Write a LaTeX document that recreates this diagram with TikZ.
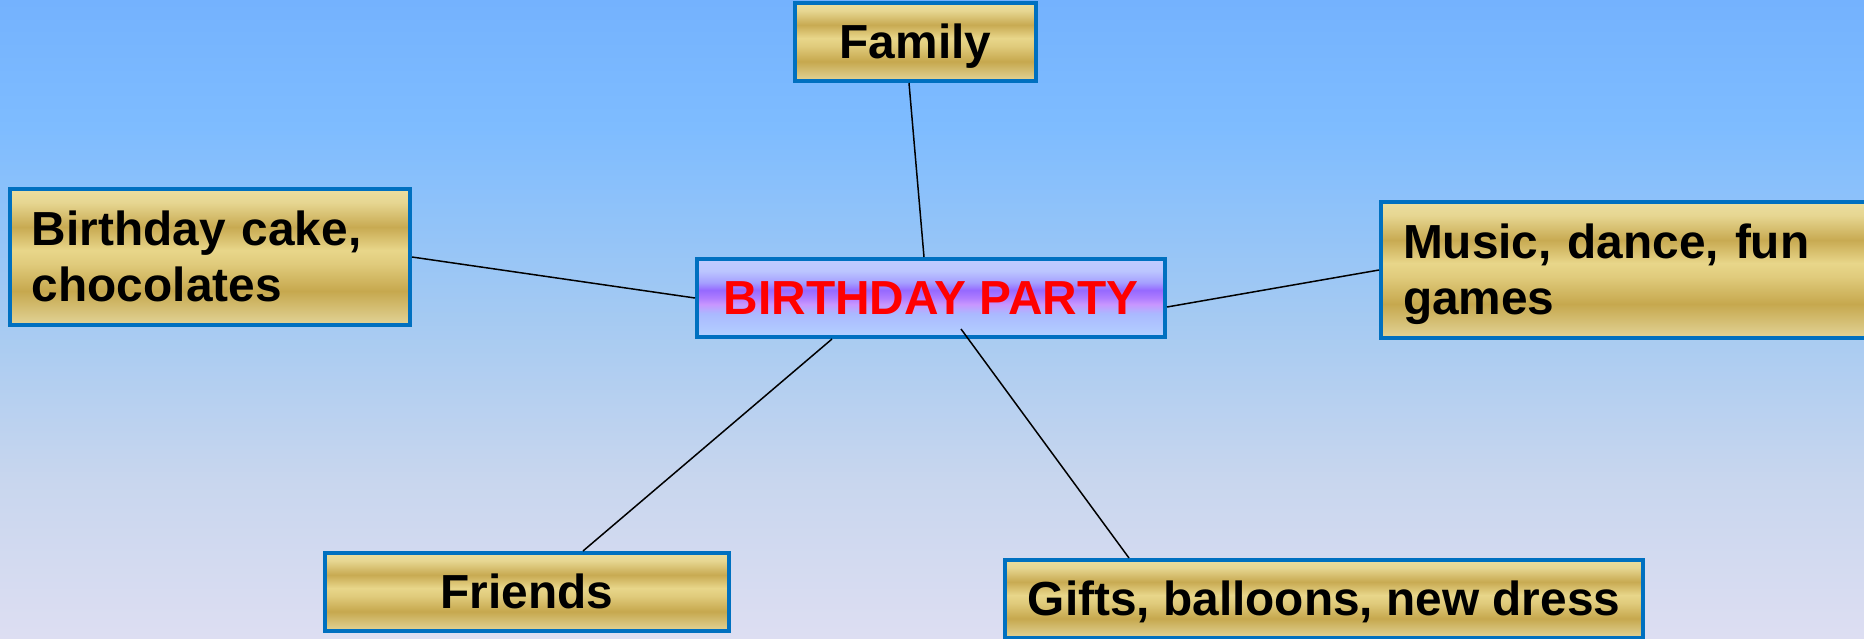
\documentclass[tikz,border=0pt]{standalone}
\usepackage{fontspec}
\setmainfont{Liberation Sans}
\usetikzlibrary{calc}
\definecolor{bgA}{RGB}{116,178,254}
\definecolor{bgB}{RGB}{126,188,255}
\definecolor{bgC}{RGB}{165,202,242}
\definecolor{bgD}{RGB}{200,214,238}
\definecolor{bgE}{RGB}{221,222,242}
\definecolor{gA}{RGB}{235,222,160}
\definecolor{gA2}{RGB}{230,214,145}
\definecolor{gB}{RGB}{200,170,82}
\definecolor{gC}{RGB}{232,214,138}
\definecolor{gC2}{RGB}{224,203,124}
\definecolor{gD}{RGB}{198,168,78}
\definecolor{gE}{RGB}{226,212,152}
\definecolor{cA}{RGB}{192,204,255}
\definecolor{cA2}{RGB}{188,198,255}
\definecolor{cA3}{RGB}{165,160,255}
\definecolor{cB}{RGB}{150,105,255}
\definecolor{cB2}{RGB}{175,125,255}
\definecolor{cC}{RGB}{200,150,255}
\definecolor{cD}{RGB}{170,185,255}
\definecolor{cE}{RGB}{180,210,255}
\definecolor{boxborder}{RGB}{0,112,192}
\pgfdeclareverticalshading{bgshade}{100bp}{color(0bp)=(bgE); color(25bp)=(bgE); color(37.5bp)=(bgD); color(50bp)=(bgC); color(65bp)=(bgB); color(75bp)=(bgA); color(100bp)=(bgA)}
\pgfdeclareverticalshading{goldshade}{100bp}{color(0bp)=(gE); color(25bp)=(gE); color(37.5bp)=(gD); color(47.5bp)=(gC2); color(52.5bp)=(gC); color(61bp)=(gB); color(70bp)=(gA2); color(75bp)=(gA); color(100bp)=(gA)}
\pgfdeclareverticalshading{hubshade}{100bp}{color(0bp)=(cE); color(25bp)=(cE); color(40bp)=(cD); color(46bp)=(cC); color(50bp)=(cB2); color(55bp)=(cB); color(60bp)=(cA3); color(67.5bp)=(cA2); color(75bp)=(cA); color(100bp)=(cA)}
\newcommand\mystrut{\rule[-0.212em]{0pt}{1.117em}}
\tikzset{
  boxbase/.style={draw=boxborder, line width=2pt, rectangle, inner sep=0pt,
    font=\fontsize{23.9pt}{28pt}\selectfont\bfseries},
  goldbox/.style={boxbase, shading=goldshade, minimum height=39pt},
  goldtall/.style={boxbase, shading=goldshade, minimum height=68pt, align=left, inner xsep=11pt},
  hubbox/.style={boxbase, shading=hubshade, text=red, minimum width=234pt, minimum height=39pt},
  link/.style={draw=black, line width=0.75pt}
}
\begin{document}
\begin{tikzpicture}[x=0.5pt,y=-0.5pt]
\useasboundingbox (0,0) rectangle (1864,638);
\clip (0,0) rectangle (1864,638);
\shade[shading=bgshade] (0,0) rectangle (1864,638);
\node[goldbox, minimum width=120.5pt] (family) at (915.5,42) {\mystrut Family};
\node[hubbox] (hub) at (931,298) {\mystrut BIRTHDAY PARTY};
\node[goldtall, text width=178pt] (cake) at (210,257) {\mystrut Birthday cake,\\ chocolates\mystrut};
\node[goldtall, text width=256.5pt] (music) at (1659.5,270) {\mystrut Music, dance, fun\\ games\mystrut};
\node[goldbox, minimum width=202pt] (friends) at (527,592) {\mystrut Friends};
\node[goldbox, minimum width=319pt] (gifts) at (1324,599) {\mystrut Gifts, balloons, new dress};
\draw[link] ($(family.south)+(-6.5,0)$) -- ($(hub.north)+(-7,0)$);
\draw[link] (cake.east) -- (hub.west);
\draw[link] ($(hub.east)+(0,9)$) -- (music.west);
\draw[link] ($(friends.north)+(56,0)$) -- ($(hub.south)+(-99,0)$);
\draw[link] ($(hub.south)+(30,-10)$) -- ($(gifts.north)+(-195,0)$);
\end{tikzpicture}
\end{document}
